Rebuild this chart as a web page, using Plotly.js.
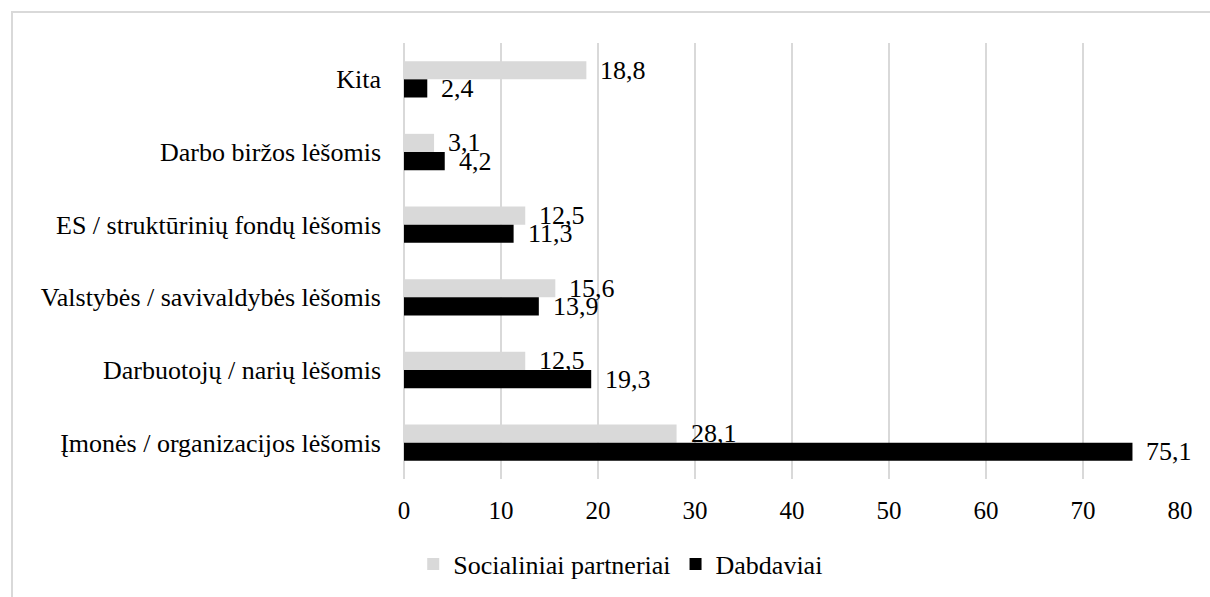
<!DOCTYPE html>
<html>
<head>
<meta charset="utf-8">
<script src="https://cdn.plot.ly/plotly-3.0.1.min.js"></script>
<style>
  html, body { margin: 0; padding: 0; background: #fff; }
  #wrap { position: relative; width: 1210px; height: 597px; overflow: hidden; }
  #chart { position: absolute; left: 0; top: 0; width: 1210px; height: 597px; }
  #frame { position: absolute; left: 11px; top: 11px; width: 1300px; height: 700px;
           border-left: 2px solid #d9d9d9; border-top: 2px solid #d9d9d9; pointer-events: none; }
</style>
</head>
<body>
<div id="wrap">
  <div id="chart"></div>
  <div id="frame"></div>
</div>
<script>
// Categories listed top to bottom as shown
const categories = [
  "Kita",
  "Darbo biržos lėšomis",
  "ES / struktūrinių fondų lėšomis",
  "Valstybės / savivaldybės lėšomis",
  "Darbuotojų / narių lėšomis",
  "Įmonės / organizacijos lėšomis"
];
const seriesNames = ["Socialiniai partneriai", "Dabdaviai"];
const socialiniai = [18.8, 3.1, 12.5, 15.6, 12.5, 28.1];
const dabdaviai = [2.4, 4.2, 11.3, 13.9, 19.3, 75.1];
const xTicks = [0, 10, 20, 30, 40, 50, 60, 70, 80];

const FONT = "Liberation Serif";
const fmt = v => v.toFixed(1).replace('.', ',');

const traces = [
  { type: 'bar', orientation: 'h', name: seriesNames[0], y: categories, x: socialiniai,
    marker: { color: '#d9d9d9' }, hoverinfo: 'none' },
  { type: 'bar', orientation: 'h', name: seriesNames[1], y: categories, x: dabdaviai,
    marker: { color: '#000000' }, hoverinfo: 'none' }
];

const annotations = [];
[[socialiniai, 9.1], [dabdaviai, -9.1]].forEach(([vals, dy]) => {
  vals.forEach((v, i) => {
    annotations.push({
      x: v, y: categories[i], xref: 'x', yref: 'y',
      text: fmt(v), showarrow: false, xanchor: 'left', yanchor: 'middle',
      xshift: 12, yshift: dy,
      font: { family: FONT, size: 26, color: '#000' }
    });
  });
});

const layout = {
  width: 1210, height: 597,
  font: { family: FONT, size: 26, color: '#000' },
  margin: { l: 404, r: 30, t: 43, b: 118, pad: 0 },
  paper_bgcolor: '#ffffff', plot_bgcolor: '#ffffff',
  barmode: 'group', bargap: 0.5, bargroupgap: 0,
  showlegend: true,
  legend: {
    orientation: 'h', xref: 'container', yref: 'container',
    x: 0.513, xanchor: 'center', y: 0.055, yanchor: 'middle',
    font: { family: FONT, size: 26, color: '#000' },
    itemwidth: 30, tracegroupgap: 0
  },
  xaxis: {
    range: [0, 80], tickvals: xTicks, ticktext: xTicks.map(String),
    showgrid: true, gridcolor: '#d9d9d9', gridwidth: 2,
    zeroline: true, zerolinecolor: '#d9d9d9', zerolinewidth: 2,
    showline: false, ticks: '', ticklabelstandoff: 14,
    tickfont: { family: FONT, size: 25, color: '#000' },
    fixedrange: true
  },
  yaxis: {
    type: 'category', autorange: 'reversed',
    showgrid: false, zeroline: false, showline: false, ticks: '',
    ticklabelstandoff: 22,
    tickfont: { family: FONT, size: 26, color: '#000' },
    fixedrange: true
  },
  annotations: annotations
};

Plotly.newPlot('chart', traces, layout, { staticPlot: true, displayModeBar: false });
</script>
</body>
</html>
